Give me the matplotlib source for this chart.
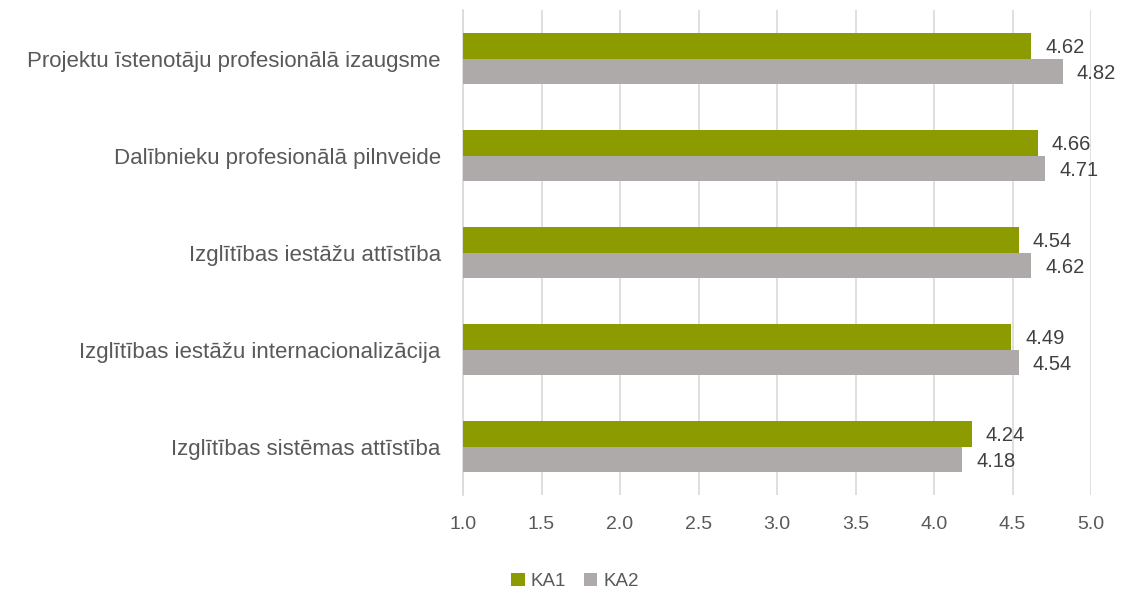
import matplotlib

matplotlib.use("Agg")
import matplotlib.pyplot as plt
import numpy as np

categories = [
    "Projektu īstenotāju profesionālā izaugsme",
    "Dalībnieku profesionālā pilnveide",
    "Izglītības iestāžu attīstība",
    "Izglītības iestāžu internacionalizācija",
    "Izglītības sistēmas attīstība",
]
ka1 = [4.62, 4.66, 4.54, 4.49, 4.24]
ka2 = [4.82, 4.71, 4.62, 4.54, 4.18]
series_names = ["KA1", "KA2"]
x_ticks = [1.0, 1.5, 2.0, 2.5, 3.0, 3.5, 4.0, 4.5, 5.0]

plt.rcParams["font.family"] = ["Liberation Sans", "DejaVu Sans"]

fig = plt.figure(figsize=(11.25, 5.9), dpi=100)
ax = fig.add_axes([0.4116, 0.161, 0.5582, 0.822])

y = np.arange(len(categories))
h = 0.26
b1 = ax.barh(y - h / 2, [v - 1.0 for v in ka1], height=h, left=1.0,
             color="#8c9c00", label=series_names[0], zorder=3)
b2 = ax.barh(y + h / 2, [v - 1.0 for v in ka2], height=h, left=1.0,
             color="#aeaaaa", label=series_names[1], zorder=3)

for bars, vals in ((b1, ka1), (b2, ka2)):
    for bar, v in zip(bars, vals):
        ax.text(v + 0.09, bar.get_y() + bar.get_height() / 2 + 0.02, f"{v:.2f}",
                va="center", ha="left", fontsize=14.5, color="#404040")

ax.set_xlim(1.0, 5.0)
ax.set_ylim(len(categories) - 0.5, -0.5)
ax.set_xticks(x_ticks)
ax.set_xticklabels([f"{t:.1f}" for t in x_ticks])
ax.set_yticks(y)
ax.set_yticklabels(categories)
ax.tick_params(axis="both", length=0, colors="#595959")
ax.tick_params(axis="x", pad=15, labelsize=14)
ax.tick_params(axis="y", pad=16, labelsize=16)
ax.grid(axis="x", color="#d9d9d9", linewidth=1.2, zorder=0)
for side in ("top", "right", "bottom"):
    ax.spines[side].set_visible(False)
ax.spines["left"].set_color("#d9d9d9")
ax.spines["left"].set_linewidth(1.2)

ax.legend(loc="center", bbox_to_anchor=(575 / 1125, 0.015), bbox_transform=fig.transFigure,
          ncol=2, frameon=False, fontsize=13.5, handlelength=0.7, handleheight=0.7,
          handletextpad=0.3, columnspacing=1.0, labelcolor="#595959")

fig.savefig("out.png", dpi=100)
